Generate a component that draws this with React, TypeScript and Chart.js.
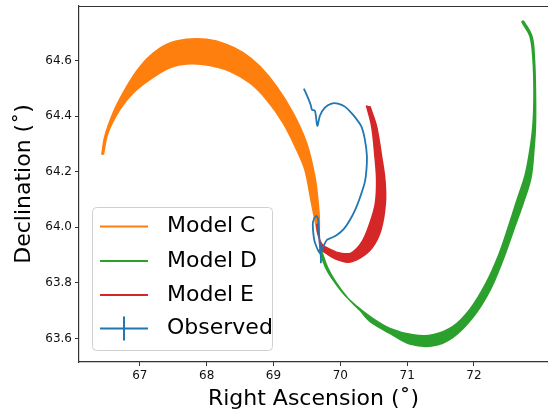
import React, { useEffect, useRef } from "react";
import { Chart, registerables } from "chart.js";

Chart.register(...registerables);

// ---- axis ranges and ticks ----
const xRange = [66.09, 73.108];
const yRange = [63.515, 64.796];
const xTicks = [67, 68, 69, 70, 71, 72];
const yTicks = [63.6, 63.8, 64.0, 64.2, 64.4, 64.6];

const seriesNames = ["Model C", "Model D", "Model E", "Observed"];
const seriesColors = ["#ff7f0e", "#2ca02c", "#d62728", "#1f77b4"];

// ---- Model C band edges [RA, Dec] ----
const modelCOuter = [
  [66.431, 64.261], [66.476, 64.327], [66.6, 64.411], [66.75, 64.483],
  [66.951, 64.561], [67.15, 64.616], [67.4, 64.658], [67.699, 64.676],
  [67.999, 64.676], [68.298, 64.658], [68.546, 64.628], [68.796, 64.579],
  [69.046, 64.507], [69.295, 64.411], [69.496, 64.303], [69.62, 64.182],
  [69.665, 64.098], [69.687, 64.026], [69.68, 63.975],
];
const modelCInner = [
  [66.454, 64.261], [66.525, 64.34], [66.701, 64.423], [66.9, 64.483],
  [67.15, 64.531], [67.449, 64.574], [67.749, 64.588], [68.048, 64.582],
  [68.347, 64.561], [68.647, 64.519], [68.897, 64.459], [69.145, 64.375],
  [69.346, 64.279], [69.47, 64.207], [69.56, 64.098], [69.62, 64.026],
  [69.665, 63.975],
];

// ---- Model D band edges ----
const modelDOuter = [
  [69.71, 63.921], [69.814, 63.853], [69.934, 63.802], [70.114, 63.744],
  [70.293, 63.701], [70.443, 63.661], [70.743, 63.618], [71.042, 63.58],
  [71.386, 63.573], [71.686, 63.604], [71.985, 63.676], [72.24, 63.773],
  [72.434, 63.882], [72.584, 63.983], [72.734, 64.084], [72.853, 64.178],
  [72.898, 64.279], [72.921, 64.369], [72.921, 64.484], [72.906, 64.604],
  [72.868, 64.687], [72.741, 64.741],
];
const modelDInner = [
  [69.68, 63.921], [69.784, 63.853], [69.904, 63.806], [70.069, 63.755],
  [70.249, 63.715], [70.443, 63.679], [70.743, 63.636], [71.087, 63.613],
  [71.386, 63.613], [71.686, 63.643], [71.94, 63.705], [72.18, 63.799],
  [72.374, 63.903], [72.524, 64.008], [72.644, 64.098], [72.763, 64.185],
  [72.838, 64.279], [72.883, 64.369], [72.898, 64.484], [72.883, 64.604],
  [72.838, 64.687], [72.719, 64.739],
];

// ---- Model E band edges ----
const modelEOuter = [
  [70.443, 64.435], [70.543, 64.363], [70.618, 64.255], [70.668, 64.17],
  [70.675, 64.087], [70.608, 63.99], [70.473, 63.925], [70.293, 63.889],
  [70.114, 63.874], [69.934, 63.885], [69.784, 63.907], [69.71, 63.921],
  [69.68, 63.975], [69.665, 64.01],
];
const modelEInner = [
  [70.391, 64.438], [70.469, 64.363], [70.518, 64.255], [70.543, 64.17],
  [70.525, 64.087], [70.443, 64.015], [70.323, 63.947], [70.159, 63.907],
  [69.994, 63.907], [69.844, 63.921], [69.725, 63.939], [69.665, 63.975],
  [69.65, 64.01],
];

// ---- Observed track ----
const observed = [
  [69.455, 64.499], [69.515, 64.466], [69.56, 64.438], [69.575, 64.423],
  [69.62, 64.419], [69.657, 64.365], [69.695, 64.401], [69.769, 64.43],
  [69.867, 64.445], [69.964, 64.445], [70.069, 64.434], [70.189, 64.405],
  [70.316, 64.362], [70.368, 64.315], [70.398, 64.257], [70.391, 64.206],
  [70.368, 64.163], [70.308, 64.116], [70.234, 64.069], [70.144, 64.026],
  [70.054, 63.994], [69.949, 63.972], [69.859, 63.961], [69.799, 63.954],
  [69.74, 63.928], [69.695, 63.907], [69.635, 63.935], [69.605, 63.961],
  [69.59, 64.018], [69.635, 64.04], [69.665, 64.033], [69.68, 63.982],
  [69.695, 63.935], [69.71, 63.888], [69.71, 63.87],
];

const FONT = "'DejaVu Sans', 'Liberation Sans', sans-serif";
const SPINE = "#333333";

const toPts = (arr: number[][]) => arr.map(([x, y]) => ({ x, y }));
const band = (outer: number[][], inner: number[][]) =>
  toPts([...outer, ...inner.slice().reverse()]);

const frameAndLegend = {
  id: "frameAndLegend",
  afterDraw(chart: any) {
    const { ctx, chartArea } = chart;
    ctx.save();
    // top spine
    ctx.strokeStyle = SPINE;
    ctx.lineWidth = 1.2;
    ctx.beginPath();
    ctx.moveTo(chartArea.left, Math.round(chartArea.top) + 0.5);
    ctx.lineTo(chartArea.right, Math.round(chartArea.top) + 0.5);
    ctx.stroke();

    // legend box
    const bx = 92.5, by = 207.5, bw = 180, bh = 143;
    ctx.beginPath();
    if (ctx.roundRect) ctx.roundRect(bx, by, bw, bh, 4);
    else ctx.rect(bx, by, bw, bh);
    ctx.fillStyle = "rgba(255,255,255,0.8)";
    ctx.fill();
    ctx.strokeStyle = "#d0d0d0";
    ctx.lineWidth = 1;
    ctx.stroke();

    const rowY = [226.5, 261, 295, 328.5];
    ctx.font = `22px ${FONT}`;
    ctx.textBaseline = "middle";
    ctx.textAlign = "left";
    seriesNames.forEach((name, i) => {
      const y = rowY[i];
      ctx.strokeStyle = seriesColors[i];
      ctx.lineWidth = 2;
      ctx.beginPath();
      ctx.moveTo(100, y);
      ctx.lineTo(148, y);
      ctx.stroke();
      if (name === "Observed") {
        ctx.beginPath();
        ctx.moveTo(124, y - 12);
        ctx.lineTo(124, y + 12);
        ctx.stroke();
      }
      ctx.fillStyle = "#000000";
      ctx.fillText(name, 167, y);
    });
    ctx.restore();
  },
};

export default function App() {
  const ref = useRef<HTMLCanvasElement | null>(null);

  useEffect(() => {
    if (!ref.current) return;
    const bandDs = (label: string, color: string, data: any[]) => ({
      label,
      data,
      borderColor: color,
      backgroundColor: color,
      borderWidth: 1.5,
      pointRadius: 0,
      fill: "shape",
      tension: 0.35,
    });
    const chart = new Chart(ref.current, {
      type: "line",
      data: {
        datasets: [
          {
            label: seriesNames[3],
            data: toPts(observed),
            borderColor: seriesColors[3],
            backgroundColor: seriesColors[3],
            borderWidth: 1.8,
            pointRadius: 0,
            fill: false,
            tension: 0.3,
          },
          bandDs(seriesNames[2], seriesColors[2], band(modelEOuter, modelEInner)),
          bandDs(seriesNames[1], seriesColors[1], band(modelDOuter, modelDInner)),
          bandDs(seriesNames[0], seriesColors[0], band(modelCOuter, modelCInner)),
        ] as any,
      },
      options: {
        animation: false,
        responsive: false,
        devicePixelRatio: 1,
        layout: { padding: { left: 0, top: 6, right: 0, bottom: 0 } },
        plugins: {
          legend: { display: false },
          tooltip: { enabled: false },
        },
        scales: {
          x: {
            type: "linear",
            min: xRange[0],
            max: xRange[1],
            afterBuildTicks: (s: any) => {
              s.ticks = xTicks.map((v) => ({ value: v }));
            },
            afterFit: (s: any) => {
              s.height = 52;
              s.paddingLeft = 0;
              s.paddingRight = 0;
            },
            grid: {
              display: true,
              drawOnChartArea: false,
              drawTicks: true,
              tickLength: 4,
              color: SPINE,
            },
            border: { display: true, color: SPINE, width: 1.2 },
            ticks: {
              font: { family: FONT, size: 12 },
              color: "#111111",
              padding: 3,
              maxRotation: 0,
              callback: (v: any) => String(v),
            },
            title: {
              display: true,
              text: "Right Ascension (˚)",
              font: { family: FONT, size: 22 },
              color: "#000000",
              padding: { top: 0, bottom: 2 },
            },
          },
          y: {
            type: "linear",
            min: yRange[0],
            max: yRange[1],
            afterBuildTicks: (s: any) => {
              s.ticks = yTicks.map((v) => ({ value: v }));
            },
            afterFit: (s: any) => {
              s.width = 79;
              s.paddingTop = 0;
              s.paddingBottom = 0;
            },
            grid: {
              display: true,
              drawOnChartArea: false,
              drawTicks: true,
              tickLength: 4,
              color: SPINE,
            },
            border: { display: true, color: SPINE, width: 1.2 },
            ticks: {
              font: { family: FONT, size: 12 },
              color: "#111111",
              padding: 3,
              callback: (v: any) => Number(v).toFixed(1),
            },
            title: {
              display: true,
              text: "Declination (˚)",
              font: { family: FONT, size: 22 },
              color: "#000000",
              padding: { top: 11, bottom: 0 },
            },
          },
        },
      } as any,
      plugins: [frameAndLegend],
    });
    return () => chart.destroy();
  }, []);

  return (
    <div
      style={{
        position: "fixed",
        left: 0,
        top: 0,
        width: 548,
        height: 414,
        overflow: "hidden",
        background: "#ffffff",
      }}
    >
      <canvas ref={ref} width={548} height={414} style={{ display: "block" }} />
    </div>
  );
}
